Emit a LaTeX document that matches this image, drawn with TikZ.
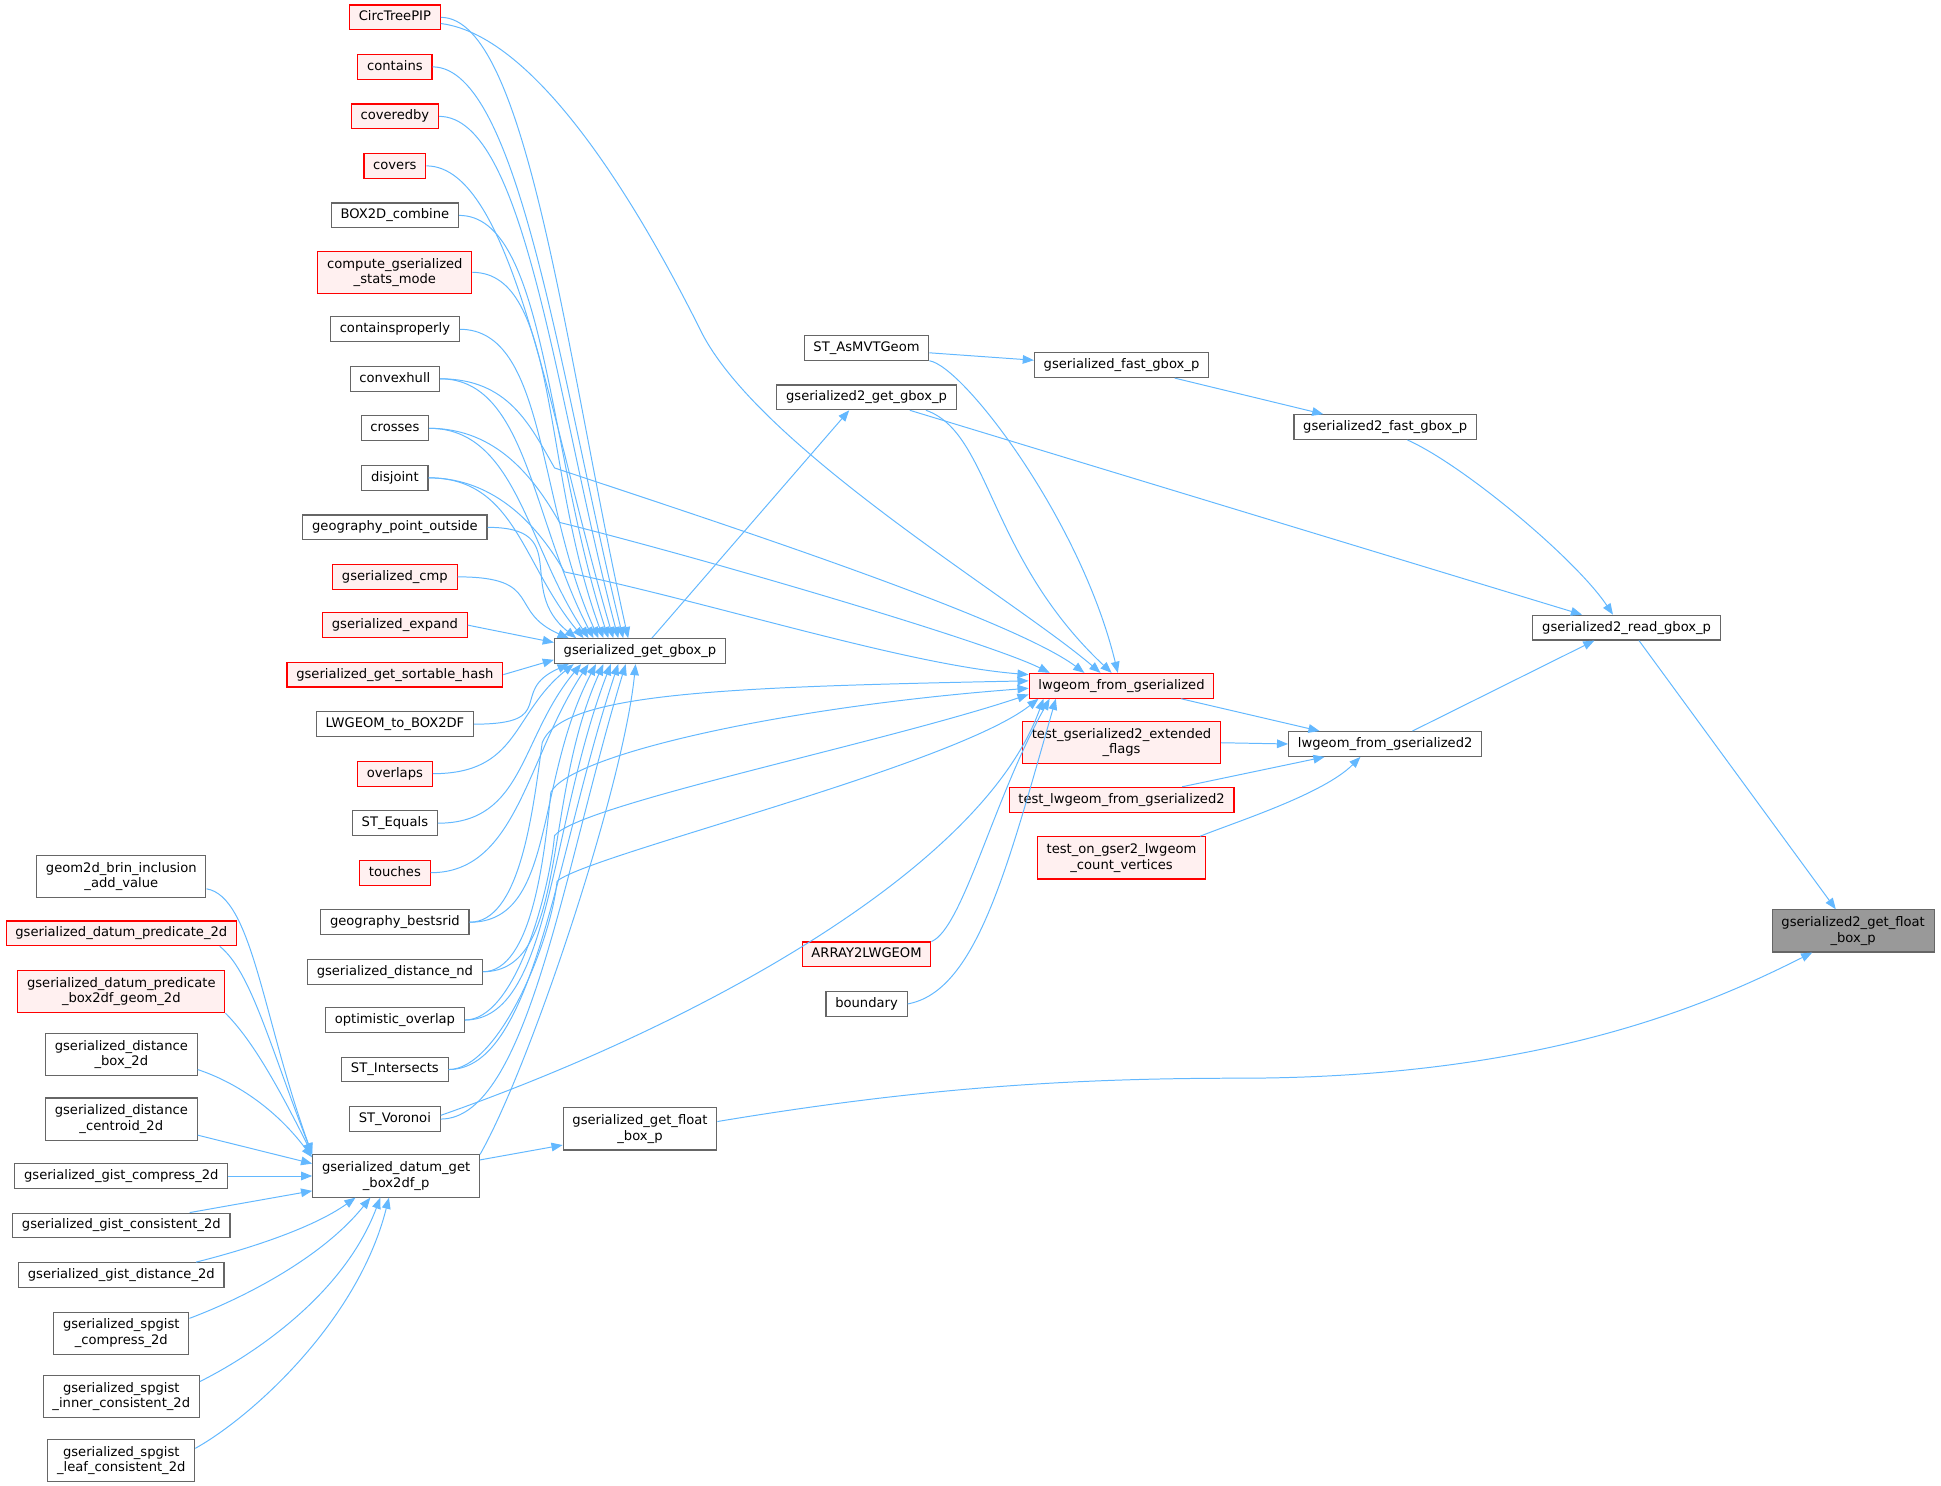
\documentclass[tikz,border=0pt]{standalone}
\usepackage{fontspec}
\setmainfont{DejaVu Sans}
\usetikzlibrary{arrows.meta}
\definecolor{edgeblue}{HTML}{63B8FF}
\definecolor{boxgray}{HTML}{666666}
\definecolor{redfill}{HTML}{FFF0F0}
\definecolor{rootgray}{HTML}{999999}
\newcommand{\fnfont}{\fontsize{10.6}{12.5}\selectfont}

\begin{document}
\begin{tikzpicture}[x=1pt, y=1pt,
  fn/.style={draw=boxgray, fill=white, line width=0.9pt, inner xsep=7.5pt, inner ysep=0pt,
    minimum height=20pt, text height=8pt, text depth=2.5pt, font=\fnfont},
  fnred/.style={fn, draw=red, fill=redfill},
  fntwo/.style={draw=boxgray, fill=white, line width=0.9pt, inner xsep=7.5pt, inner ysep=5.5pt,
    align=center, font=\fnfont},
  fntwored/.style={fntwo, draw=red, fill=redfill},
  fnroot/.style={fntwo, fill=rootgray},
  calls/.style={draw=edgeblue, line width=0.8pt, -{Triangle[length=9pt,width=7pt]}}]
\useasboundingbox (0,0) rectangle (1568,-1200);
% left column: callers of the datum box reader
\node[fntwo] (brin) at (98,-708) {geom2d\_brin\_inclusion\\\_add\_value};
\node[fnred] (predicate) at (98,-754) {gserialized\_datum\_predicate\_2d};
\node[fntwored] (predbox) at (98,-801) {gserialized\_datum\_predicate\\\_box2df\_geom\_2d};
\node[fntwo] (distbox) at (98,-852) {gserialized\_distance\\\_box\_2d};
\node[fntwo] (distcent) at (98,-904) {gserialized\_distance\\\_centroid\_2d};
\node[fn] (gistcomp) at (98,-950) {gserialized\_gist\_compress\_2d};
\node[fn] (gistcons) at (98,-990) {gserialized\_gist\_consistent\_2d};
\node[fn] (gistdist) at (98,-1030) {gserialized\_gist\_distance\_2d};
\node[fntwo] (spcomp) at (98,-1077) {gserialized\_spgist\\\_compress\_2d};
\node[fntwo] (spinner) at (98,-1128) {gserialized\_spgist\\\_inner\_consistent\_2d};
\node[fntwo] (spleaf) at (98,-1180) {gserialized\_spgist\\\_leaf\_consistent\_2d};
% second column: callers of gserialized_get_gbox_p
\foreach \n/\y/\s/\t in {circ/14/fnred/CircTreePIP, contains/54/fnred/contains,
    coveredby/94/fnred/coveredby, covers/134/fnred/covers, boxcomb/174/fn/BOX2D\_combine,
    containsprop/266/fn/containsproperly, convexhull/306/fn/convexhull, crosses/346/fn/crosses,
    disjoint/386/fn/disjoint, geopoint/426/fn/geography\_point\_outside,
    gcmp/466/fnred/gserialized\_cmp, gexpand/505/fnred/gserialized\_expand,
    ghash/545/fnred/gserialized\_get\_sortable\_hash, lwtobox/585/fn/LWGEOM\_to\_BOX2DF,
    overlaps/625/fnred/overlaps, stequals/665/fn/ST\_Equals, touches/705/fnred/touches,
    bestsrid/745/fn/geography\_bestsrid, distnd/785/fn/gserialized\_distance\_nd,
    optoverlap/824/fn/optimistic\_overlap, stinter/864/fn/ST\_Intersects,
    stvoronoi/904/fn/ST\_Voronoi}
  {\node[\s] (\n) at (319,-\y) {\t};}
\node[fntwored] (compstats) at (319,-220) {compute\_gserialized\\\_stats\_mode};
% middle and right
\node[fn] (gg) at (517,-526) {gserialized\_get\_gbox\_p};
\node[fntwo] (datumget) at (320,-950) {gserialized\_datum\_get\\\_box2df\_p};
\node[fntwo] (floatbox) at (517,-912) {gserialized\_get\_float\\\_box\_p};
\node[fn] (asmvt) at (700,-281) {ST\_AsMVTGeom};
\node[fn] (g2gbox) at (700,-321) {gserialized2\_get\_gbox\_p};
\node[fnred] (arraylw) at (700,-771) {ARRAY2LWGEOM};
\node[fn] (boundary) at (700,-811) {boundary};
\node[fnred] (lwfrom) at (906,-554) {lwgeom\_from\_gserialized};
\node[fn] (fastgbox) at (906,-295) {gserialized\_fast\_gbox\_p};
\node[fntwored] (testext) at (906,-600) {test\_gserialized2\_extended\\\_flags};
\node[fnred] (testlw) at (906,-646) {test\_lwgeom\_from\_gserialized2};
\node[fntwored] (testcount) at (906,-693) {test\_on\_gser2\_lwgeom\\\_count\_vertices};
\node[fn] (g2fast) at (1119,-345) {gserialized2\_fast\_gbox\_p};
\node[fn] (lwfrom2) at (1119,-601) {lwgeom\_from\_gserialized2};
\node[fn] (readgbox) at (1314,-507) {gserialized2\_read\_gbox\_p};
\node[fnroot] (root) at (1497,-752) {gserialized2\_get\_float\\\_box\_p};
% into gserialized_get_gbox_p
\foreach \n/\dx/\c in {circ/60/225, contains/56/205, coveredby/52/190, covers/48/170,
    boxcomb/44/155, compstats/40/135, containsprop/36/110, convexhull/32/95, crosses/28/75,
    disjoint/24/60, geopoint/18/40, gcmp/12/22}
  {\draw[calls] (\n.east) .. controls +(70,0) and +(-50,\c) .. ([xshift=\dx]gg.north west);}
\foreach \n/\dx/\c in {lwtobox/12/22, overlaps/16/40, stequals/22/60, touches/28/75,
    bestsrid/34/95, distnd/40/110, optoverlap/46/130, stinter/52/150, stvoronoi/58/165}
  {\draw[calls] (\n.east) .. controls +(70,0) and +(-50,-\c) .. ([xshift=\dx]gg.south west);}
\draw[calls] (gexpand.east) -- ([yshift=7]gg.west);
\draw[calls] (ghash.east) -- ([yshift=-7]gg.west);
\draw[calls] (datumget.north east) .. controls +(40,70) and +(-10,-100) .. ([xshift=66]gg.south west);
% into lwgeom_from_gserialized
\draw[calls] ([yshift=-5]circ.east) .. controls +(80,-10) and +(-45,90) .. (565,-265)
  .. controls +(45,-95) and +(-70,60) .. ([xshift=-17]lwfrom.north);
\draw[calls] (convexhull.east) .. controls +(55,0) and +(-20,35) .. (448,-378)
  .. controls +(120,-40) and +(-60,45) .. ([xshift=-30]lwfrom.north);
\draw[calls] (crosses.east) .. controls +(55,0) and +(-20,35) .. (452,-422)
  .. controls +(120,-30) and +(-50,25) .. ([xshift=-58]lwfrom.north);
\draw[calls] (disjoint.east) .. controls +(55,0) and +(-20,35) .. (456,-462)
  .. controls +(120,-25) and +(-100,8) .. ([yshift=9]lwfrom.west);
\draw[calls] (bestsrid.east) .. controls +(40,0) and +(-8,-60) .. (438,-600)
  .. controls +(15,40) and +(-250,-5) .. ([yshift=4]lwfrom.west);
\draw[calls] (distnd.east) .. controls +(40,0) and +(-5,-50) .. (445,-640)
  .. controls +(15,30) and +(-200,-15) .. ([yshift=-2]lwfrom.west);
\draw[calls] (optoverlap.east) .. controls +(40,0) and +(-5,-50) .. (448,-675)
  .. controls +(20,25) and +(-120,-40) .. ([yshift=-7]lwfrom.west);
\draw[calls] (stinter.east) .. controls +(40,0) and +(-5,-50) .. (450,-712)
  .. controls +(20,20) and +(-70,-55) .. ([xshift=8]lwfrom.south west);
\draw[calls] ([yshift=3]stvoronoi.east) .. controls +(200,70) and +(-50,-140) .. ([xshift=12]lwfrom.south west);
\draw[calls] (arraylw.north east) .. controls +(25,10) and +(-45,-80) .. ([xshift=17]lwfrom.south west);
\draw[calls] (boundary.east) .. controls +(55,10) and +(-40,-140) .. ([xshift=22]lwfrom.south west);
\draw[calls] (asmvt.south east) .. controls +(27,-4) and +(-30,124) .. ([xshift=-3]lwfrom.north);
\draw[calls] ([xshift=48]g2gbox.south) .. controls +(52,-18) and +(-100,94) .. ([xshift=-8]lwfrom.north);
% the chain to the root
\draw[calls] ([xshift=-60]gg.north east) -- ([xshift=-14]g2gbox.south);
\draw[calls] ([xshift=35]g2gbox.south) -- ([xshift=-36]readgbox.north);
\draw[calls] ([yshift=-4]asmvt.east) -- ([yshift=4]fastgbox.west);
\draw[calls] ([xshift=43]fastgbox.south) -- ([xshift=-50]g2fast.north);
\draw[calls] ([xshift=18]g2fast.south) .. controls +(45,-20) and +(-30,45) .. ([xshift=-11]readgbox.north);
\draw[calls] ([xshift=48]lwfrom.south) -- ([xshift=-53]lwfrom2.north);
\draw[calls] (testext.east) -- (lwfrom2.west);
\draw[calls] ([xshift=49]testlw.north) -- ([xshift=-49]lwfrom2.south);
\draw[calls] ([xshift=-5]testcount.north east) .. controls +(30,12) and +(-30,-30) .. ([xshift=-20]lwfrom2.south);
\draw[calls] ([xshift=22]lwfrom2.north) -- ([xshift=-26]readgbox.south);
\draw[calls] ([xshift=10]readgbox.south) -- ([xshift=-14]root.north);
\draw[calls] ([yshift=13]datumget.east) -- ([yshift=-13]floatbox.west);
\draw[calls] ([yshift=6]floatbox.east) .. controls +(150,25) and +(-150,0) .. (1000,-871)
  .. controls +(250,0) and +(-80,-40) .. ([xshift=-33]root.south);
% into gserialized_datum_get_box2df_p
\draw[calls] ([yshift=-10]brin.east) .. controls +(37,-6) and +(-40,110) .. (datumget.north west);
\draw[calls] ([xshift=-14]predicate.south east) .. controls +(25,-20) and +(-35,90) .. (datumget.north west);
\draw[calls] (predbox.south east) .. controls +(20,-20) and +(-30,60) .. (datumget.north west);
\draw[calls] ([yshift=-12]distbox.east) .. controls +(30,-10) and +(-30,40) .. ([yshift=15]datumget.west);
\draw[calls] ([yshift=-13]distcent.east) -- ([yshift=10]datumget.west);
\draw[calls] (gistcomp.east) -- (datumget.west);
\draw[calls] ([xshift=-33]gistcons.north east) -- ([yshift=-12]datumget.west);
\draw[calls] ([xshift=-23]gistdist.north east) .. controls +(40,10) and +(-35,-25) .. ([xshift=35]datumget.south west);
\draw[calls] ([yshift=12]spcomp.east) .. controls +(40,15) and +(-40,-50) .. ([xshift=47]datumget.south west);
\draw[calls] ([yshift=12]spinner.east) .. controls +(40,20) and +(-30,-80) .. ([xshift=55]datumget.south west);
\draw[calls] ([yshift=10]spleaf.east) .. controls +(45,25) and +(-25,-100) .. ([xshift=62]datumget.south west);
\end{tikzpicture}
\end{document}
